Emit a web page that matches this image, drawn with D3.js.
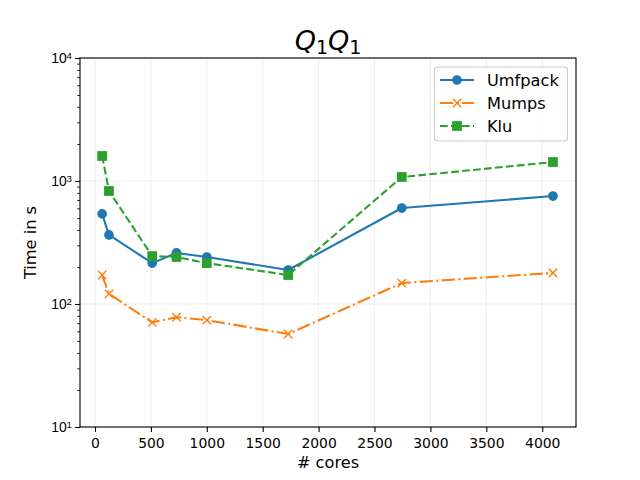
<!DOCTYPE html>
<html><head><meta charset="utf-8">
<script src="https://cdn.jsdelivr.net/npm/d3@7"></script>
<style>body{margin:0;background:#fff}svg{display:block;font-family:"DejaVu Sans",sans-serif}</style>
</head><body><svg id="c" width="640" height="480"></svg>
<script>
const cores = [64, 125, 512, 729, 1000, 1728, 2744, 4096];
const umfpack = [540, 364, 215, 260, 241, 189, 603, 755];
const mumps = [172, 121, 71, 78, 74, 57, 148, 179];
const klu = [1597, 829, 245, 241, 215, 172, 1078, 1426];
const xTicks = [0, 500, 1000, 1500, 2000, 2500, 3000, 3500, 4000];
const yTicks = [10, 100, 1000, 10000];
const seriesNames = ["Umfpack", "Mumps", "Klu"];

const svg = d3.select("#c");
const L = 80, R = 576, T = 58, B = 427;
const x = d3.scaleLinear().domain([-134, 4302]).range([L, R]);
const y = d3.scaleLog().domain([10, 10000]).range([B, T]);

const series = [
  {name: seriesNames[0], vals: umfpack, color: "#1f77b4", dash: null, marker: "o"},
  {name: seriesNames[1], vals: mumps, color: "#ff7f0e", dash: "13.3,3.3,2.1,3.3", marker: "x"},
  {name: seriesNames[2], vals: klu, color: "#2ca02c", dash: "7.7,3.3", marker: "s"}
];

// grid
const g = svg.append("g");
g.selectAll(".gx").data(xTicks).join("line")
  .attr("x1", d => x(d)).attr("x2", d => x(d)).attr("y1", T).attr("y2", B)
  .attr("stroke", "#b0b0b0").attr("stroke-opacity", 0.2).attr("stroke-width", 1.1);
g.selectAll(".gy").data(yTicks).join("line")
  .attr("x1", L).attr("x2", R).attr("y1", d => y(d)).attr("y2", d => y(d))
  .attr("stroke", "#b0b0b0").attr("stroke-opacity", 0.2).attr("stroke-width", 1.1);

// axes
const xAxis = svg.append("g").attr("transform", `translate(0,${B})`)
  .call(d3.axisBottom(x).tickValues(xTicks).tickFormat(d3.format("d")).tickSize(4.9).tickPadding(5.9));
const minor = [];
for (let e = 1; e < 4; e++) for (let m = 2; m <= 9; m++) minor.push(m * Math.pow(10, e));
svg.append("g").attr("transform", `translate(${L},0)`)
  .call(d3.axisLeft(y).tickValues(minor).tickFormat("").tickSize(2.8))
  .call(a => a.select(".domain").remove())
  .call(a => a.selectAll("line").attr("stroke-width", 0.83));
const yAxis = svg.append("g").attr("transform", `translate(${L},0)`)
  .call(d3.axisLeft(y).tickValues(yTicks).tickFormat("").tickSize(4.9));
[xAxis, yAxis].forEach(a => {
  a.select(".domain").remove();
  a.selectAll("line").attr("stroke-width", 1.1).attr("stroke", "#000");
  a.selectAll("text").attr("font-size", "13.9px").attr("fill", "#000").attr("font-family", "DejaVu Sans");
});
yAxis.selectAll(".tick").each(function(d) {
  const t = d3.select(this).append("text").attr("x", -8).attr("dy", "0.35em")
    .attr("text-anchor", "end").attr("font-size", "13.9px").attr("fill", "#000");
  t.append("tspan").text("10");
  t.append("tspan").attr("dy", "-0.45em").attr("font-size", "9.7px").text(Math.round(Math.log10(d)));
});
// frame
svg.append("rect").attr("x", L).attr("y", T).attr("width", R - L).attr("height", B - T)
  .attr("fill", "none").attr("stroke", "#000").attr("stroke-width", 1.1);

// lines
const clip = svg.append("defs").append("clipPath").attr("id", "clip").append("rect")
  .attr("x", L).attr("y", T).attr("width", R - L).attr("height", B - T);
const line = d3.line().x(d => x(d[0])).y(d => y(d[1]));
function drawMarker(sel, m, color, px, py) {
  if (m === "o") sel.append("circle").attr("cx", px).attr("cy", py).attr("r", 4.17)
    .attr("fill", color).attr("stroke", color).attr("stroke-width", 1.39);
  else if (m === "s") sel.append("rect").attr("x", px - 4.17).attr("y", py - 4.17)
    .attr("width", 8.33).attr("height", 8.33).attr("fill", color).attr("stroke", color).attr("stroke-width", 1.39);
  else sel.append("path").attr("d", `M${px-4.17},${py-4.17}L${px+4.17},${py+4.17}M${px-4.17},${py+4.17}L${px+4.17},${py-4.17}`)
    .attr("stroke", color).attr("stroke-width", 1.39).attr("fill", "none");
}
series.forEach(s => {
  const pts = cores.map((c, i) => [c, s.vals[i]]);
  const gs = svg.append("g").attr("clip-path", "url(#clip)");
  gs.append("path").attr("d", line(pts)).attr("fill", "none").attr("stroke", s.color)
    .attr("stroke-width", 2.08).attr("stroke-dasharray", s.dash).attr("stroke-linejoin", "round");
  pts.forEach(p => drawMarker(gs, s.marker, s.color, x(p[0]), y(p[1])));
});

// legend
const lg = svg.append("g");
lg.append("rect").attr("x", 434.5).attr("y", 67).attr("width", 133).attr("height", 74).attr("rx", 3)
  .attr("fill", "#fff").attr("fill-opacity", 0.8).attr("stroke", "#cccccc").attr("stroke-width", 1.1);
series.forEach((s, i) => {
  const yy = 80 + i * 23;
  lg.append("line").attr("x1", 440).attr("x2", 474).attr("y1", yy).attr("y2", yy)
    .attr("stroke", s.color).attr("stroke-width", 2.08).attr("stroke-dasharray", s.dash);
  drawMarker(lg, s.marker, s.color, 457, yy);
  lg.append("text").attr("x", 487).attr("y", yy).attr("dy", "0.36em").attr("font-size", "16.2px")
    .attr("fill", "#000").text(s.name);
});

// labels
svg.append("text").attr("x", (L + R) / 2).attr("y", 468).attr("text-anchor", "middle")
  .attr("font-size", "16.2px").attr("fill", "#000").text("# cores");
svg.append("text").attr("transform", `translate(36,${(T + B) / 2}) rotate(-90)`).attr("text-anchor", "middle")
  .attr("font-size", "16.2px").attr("fill", "#000").text("Time in s");
const title = svg.append("text").attr("x", (L + R) / 2).attr("y", 50).attr("text-anchor", "middle")
  .attr("font-size", "27px").attr("fill", "#000");
title.append("tspan").attr("font-style", "italic").text("Q");
title.append("tspan").attr("font-size", "19px").attr("dy", "4").text("1");
title.append("tspan").attr("font-style", "italic").attr("dy", "-4").text("Q");
title.append("tspan").attr("font-size", "19px").attr("dy", "4").text("1");
</script></body></html>
